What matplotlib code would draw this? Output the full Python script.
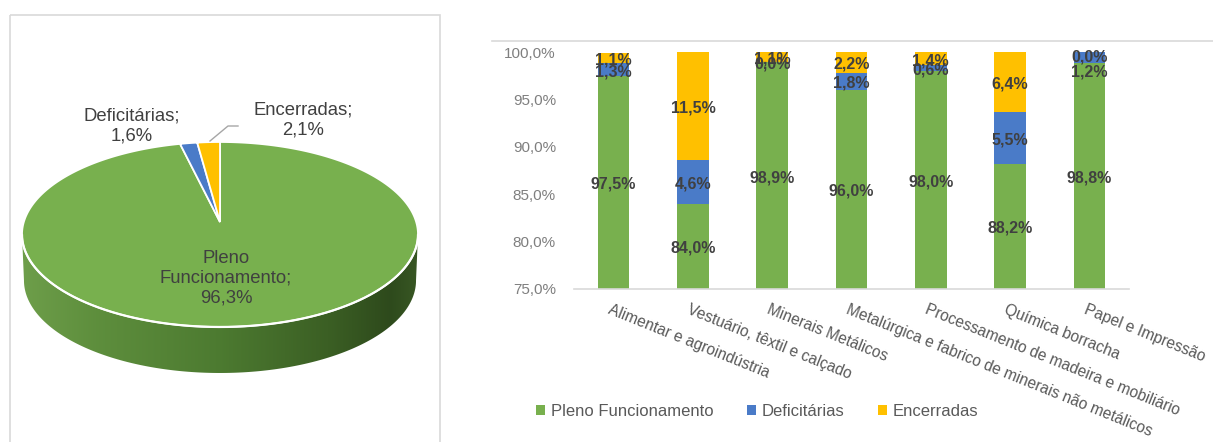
import numpy as np
import matplotlib
matplotlib.use("Agg")
import matplotlib.pyplot as plt
from matplotlib.patches import Polygon, Rectangle, Patch
from matplotlib.lines import Line2D
from matplotlib import transforms, font_manager

plt.rcParams['font.family'] = ['Liberation Sans', 'DejaVu Sans']
_installed = {f.name for f in font_manager.fontManager.ttflist}
HAS_NARROW = 'Liberation Sans Narrow' in _installed
NARROW = ['Liberation Sans Narrow', 'Liberation Sans', 'DejaVu Sans']

# ---- data: overall situation (pie) ----
pie_labels = ["Pleno Funcionamento", "Deficitárias", "Encerradas"]
pie_values = [96.3, 1.6, 2.1]

# ---- data: situation by sector (stacked bars) ----
sectors = ["Alimentar e agroindústria",
           "Vestuário, têxtil e calçado",
           "Minerais Metálicos",
           "Metalúrgica e fabrico de minerais não metálicos",
           "Processamento de madeira e mobiliário",
           "Química borracha",
           "Papel e Impressão"]
pleno = [97.5, 84.0, 98.9, 96.0, 98.0, 88.2, 98.8]
deficitarias = [1.3, 4.6, 0.0, 1.8, 0.6, 5.5, 1.2]
encerradas = [1.1, 11.5, 1.1, 2.2, 1.4, 6.4, 0.0]
y_ticks = [75, 80, 85, 90, 95, 100]

GREEN = "#78B04E"
BLUE = "#4A7BC8"
YELLOW = "#FFC000"
COLORS = [GREEN, BLUE, YELLOW]
LABEL = "#404040"
AXIS_TXT = "#7F7F7F"
CAT_TXT = "#595959"
LINE = "#D9D9D9"

W, H = 1213, 442
fig = plt.figure(figsize=(W / 100, H / 100), dpi=100)


def fmt(v):
    return f"{v:.1f}".replace(".", ",") + "%"


# =================== 3D pie (left panel) ===================
ax_p = fig.add_axes([0, 0, 450 / W, 1])
ax_p.axis("off")

cx, cy = 220.0, 234.5          # centre of the projected rim ellipse
k = 0.135                      # perspective strength
B, C = 92.5, 12.5
A = 198.0 * np.sqrt(1 - k * k)
depth = 46.0


def proj(theta_deg, shrink=1.0):
    t = np.radians(theta_deg)
    u, v = np.cos(t), np.sin(t)
    den = 1 + k * v
    x = cx + shrink * A * u / den
    y = cy - (B * v + C) / den
    return x, y


apex = (cx, cy - C)

# side wall (front half of the cylinder) with horizontal shading
t_left = 180 + np.degrees(np.arcsin(k))
t_right = 360 - np.degrees(np.arcsin(k))
ts = np.linspace(t_left, t_right, 300)
xt, yt = proj(ts)
xb, yb = proj(ts[::-1], shrink=0.99)
yb = yb + depth
side_pts = np.column_stack([np.concatenate([xt, xb]), np.concatenate([yt, yb])])
side = Polygon(side_pts, closed=True, facecolor="none", edgecolor="none")
ax_p.add_patch(side)

grad_stops = [(0.00, (0.43, 0.62, 0.29)), (0.18, (0.37, 0.56, 0.24)),
              (0.50, (0.30, 0.48, 0.19)), (0.78, (0.23, 0.37, 0.14)),
              (0.93, (0.18, 0.29, 0.11)), (1.00, (0.22, 0.34, 0.14))]
gx = np.linspace(0, 1, 400)
grad = np.zeros((2, 400, 3))
for ch in range(3):
    grad[:, :, ch] = np.interp(gx, [s[0] for s in grad_stops],
                               [s[1][ch] for s in grad_stops])
im = ax_p.imshow(grad, extent=[cx - 198, cx + 198, 385, 225],
                 aspect="auto", zorder=1, interpolation="bilinear")
im.set_clip_path(side)

# top face wedges, clockwise from 12 o'clock
t0 = 90.0
for val, col in zip(pie_values, COLORS):
    t1 = t0 - val * 3.6
    tt = np.linspace(t1, t0, 400)
    px, py = proj(tt)
    pts = np.column_stack([np.concatenate([[apex[0]], px]),
                           np.concatenate([[apex[1]], py])])
    ax_p.add_patch(Polygon(pts, closed=True, facecolor=col, edgecolor="white",
                           linewidth=1.3, joinstyle="miter", zorder=2))
    t0 = t1

# white rim along the front edge
ax_p.plot(xt, yt, color="white", lw=1.6, zorder=3, solid_capstyle="round")

# pie labels
pie_font = dict(fontsize=13.3, color=LABEL, ha="center", va="center",
                linespacing=1.22, zorder=5)
ax_p.text(226, 278, "Pleno\nFuncionamento;\n" + fmt(pie_values[0]), **pie_font)
ax_p.text(132, 126, "Deficitárias;\n" + fmt(pie_values[1]), **pie_font)
ax_p.text(303, 120, "Encerradas;\n" + fmt(pie_values[2]), **pie_font)
ax_p.plot([210, 228, 238], [141, 126, 126], color="#A6A6A6", lw=1, zorder=4)

# panel frame
ax_p.add_patch(Rectangle((10, 15), 430, 440, facecolor="none",
                         edgecolor=LINE, lw=1.2, zorder=0))
ax_p.set_xlim(0, 450)
ax_p.set_ylim(H, 0)

# =================== stacked bars (right panel) ===================
ax = fig.add_axes([574 / W, (H - 289) / H, 555 / W, 237 / H])
x = np.arange(len(sectors))
p = np.array(pleno)
d = np.array(deficitarias)
e = np.array(encerradas)
bw = 0.4
ax.bar(x, p, bw, color=GREEN, zorder=2)
ax.bar(x, d, bw, bottom=p, color=BLUE, zorder=2)
ax.bar(x, e, bw, bottom=p + d, color=YELLOW, zorder=2)

ax.set_xlim(-0.5, len(sectors) - 0.5)
ax.set_ylim(75, 100)
ax.set_yticks(y_ticks)
ax.set_yticklabels([fmt(v) for v in y_ticks])
tick_size = 13.2 if HAS_NARROW else 11
ax.tick_params(axis="y", length=0, pad=13, labelsize=tick_size,
               labelcolor=AXIS_TXT)
for lab in ax.get_yticklabels():
    lab.set_family(NARROW)
ax.set_xticks([])
for s in ("left", "right", "top"):
    ax.spines[s].set_visible(False)
ax.spines["bottom"].set_color(LINE)
ax.spines["bottom"].set_linewidth(1.2)

# value labels, centred on the visible part of each segment
value_size = 13.5 if HAS_NARROW else 11.5
label_nudge = {(6, 1): -12, (6, 2): -3}   # pixel shifts for crowded labels
ylo, yhi = ax.get_ylim()
for i in range(len(sectors)):
    bottoms = [0, p[i], p[i] + d[i]]
    heights = [p[i], d[i], e[i]]
    for j, (b0, h0) in enumerate(zip(bottoms, heights)):
        lo = max(b0, ylo)
        hi = min(b0 + h0, yhi)
        yc = (lo + hi) / 2
        tr = transforms.offset_copy(ax.transData, fig=fig, x=0,
                                    y=label_nudge.get((i, j), 0) - 2, units="dots")
        ax.text(x[i], yc, fmt(h0), transform=tr, ha="center", va="center",
                fontsize=value_size, fontweight="bold", color=LABEL,
                family=NARROW, zorder=4)

# rotated category labels
cat_tr = transforms.offset_copy(ax.get_xaxis_transform(), fig=fig,
                                x=-2, y=-13, units="dots")
for i, name in enumerate(sectors):
    ax.text(x[i], 0, name, transform=cat_tr, rotation=-22,
            rotation_mode="anchor", ha="left", va="top",
            fontsize=11.2, color=CAT_TXT, clip_on=False)

# chart-area top border
fig.add_artist(Line2D([492 / W, 1.0], [1 - 41 / H, 1 - 41 / H],
                      color=LINE, lw=1.2))

handles = [Patch(facecolor=c, edgecolor="none", label=l)
           for c, l in zip(COLORS, pie_labels)]
fig.legend(handles=handles, loc="center", bbox_to_anchor=(757 / W, 31 / H),
           ncol=3, frameon=False, fontsize=12, handlelength=0.55,
           handleheight=0.55, handletextpad=0.35, columnspacing=2.0,
           labelcolor=CAT_TXT)

fig.savefig("out.png", dpi=100)
